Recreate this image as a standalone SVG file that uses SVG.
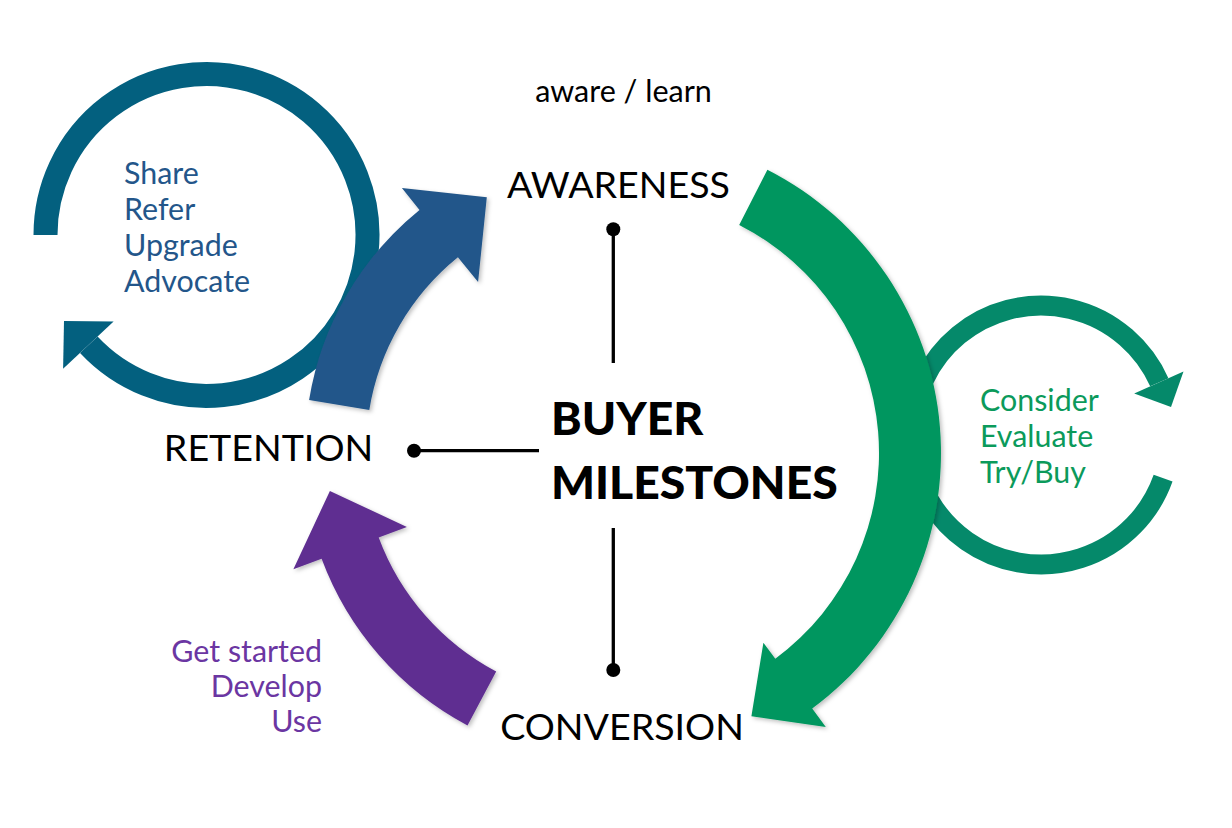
<svg xmlns="http://www.w3.org/2000/svg" width="1232" height="828" viewBox="0 0 1232 828">
<defs>
<style>
.t{font-family:Lato,"Liberation Sans",sans-serif;}
.stage{font-size:37.6px;fill:#000;}
.title{font-size:46.3px;font-weight:900;fill:#000;}
.sub{font-size:30.4px;}
.ln{stroke:#000;stroke-width:3.3;fill:none;}
.dot{fill:#000;}
</style>
<filter id="sh" x="-20%" y="-20%" width="140%" height="140%">
<feDropShadow dx="2" dy="2" stdDeviation="2" flood-color="#000" flood-opacity="0.25"/>
</filter>
</defs>
<rect width="1232" height="828" fill="#fff"/>

<g id="retention-loop">
<path d="M45.5,235 A161,161 0 1 1 88.8,344.8" fill="none" stroke="#03607F" stroke-width="24"/>
<polygon points="113.6,321.6 63.1,368.7 64,321" fill="#03607F"/>
<text class="t sub" fill="#23568A"><tspan x="124" y="183.5">Share</tspan><tspan x="124" y="219.5">Refer</tspan><tspan x="124" y="255.5">Upgrade</tspan><tspan x="124" y="291.5">Advocate</tspan></text>
</g>

<g id="awareness-loop">
<path d="M1163.1,478.2 A129.5,129.5 0 1 1 1159.3,382.3" fill="none" stroke="#05896A" stroke-width="20"/>
<polygon points="1134.2,393.5 1183.5,371.5 1171,407" fill="#05896A"/>
<text class="t sub" fill="#0B9A5B"><tspan x="980" y="410.5">Consider</tspan><tspan x="980" y="446.5">Evaluate</tspan><tspan x="980" y="482.5">Try/Buy</tspan></text>
</g>

<g id="blue-arrow">
<path d="M309.1,400.1 A309,309 0 0 1 419.5,209.9 L401.9,188.1 L486.8,197.2 L478.1,282.1 L457.9,257.3 A248,248 0 0 0 369.3,409.9 Z" fill="#23568A" filter="url(#sh)"/>
</g>

<g id="green-arrow">
<path d="M767.4,169.7 A318,318 0 0 1 812.2,708.6 L825.8,727.1 L751.4,716.3 L763.4,642.7 L775.3,658.8 A256,256 0 0 0 739.2,224.9 Z" fill="#02965E" filter="url(#sh)"/>
</g>

<g id="purple-arrow">
<path d="M496.2,671.6 A251,251 0 0 1 378.7,537.5 L406.9,527.0 L329.9,490.9 L293.4,569.2 L321.6,558.8 A312,312 0 0 0 467.5,725.5 Z" fill="#5F2F91" filter="url(#sh)"/>
<text class="t sub" fill="#6B36A2" text-anchor="end"><tspan x="322" y="661.5">Get started</tspan><tspan x="322" y="697">Develop</tspan><tspan x="322" y="731.5">Use</tspan></text>
</g>

<g id="connectors">
<line class="ln" x1="613.3" y1="229" x2="613.3" y2="363"/>
<circle class="dot" cx="613.3" cy="229.3" r="7"/>
<line class="ln" x1="414" y1="450.7" x2="539" y2="450.7"/>
<circle class="dot" cx="414" cy="450.7" r="7"/>
<line class="ln" x1="613.3" y1="528" x2="613.3" y2="670"/>
<circle class="dot" cx="613.3" cy="670" r="7"/>
</g>

<g id="aware-learn"><text class="t" x="623.5" y="101.5" font-size="30.5" text-anchor="middle" fill="#000">aware / learn</text></g>
<g id="awareness"><text class="t stage" x="618.5" y="198" text-anchor="middle">AWARENESS</text></g>
<g id="retention"><text class="t stage" x="268.5" y="461" text-anchor="middle">RETENTION</text></g>
<g id="conversion"><text class="t stage" x="622" y="740" text-anchor="middle">CONVERSION</text></g>
<g id="buyer-milestones"><text class="t title"><tspan x="551" y="435">BUYER</tspan><tspan x="551" y="498.5">MILESTONES</tspan></text></g>
</svg>
